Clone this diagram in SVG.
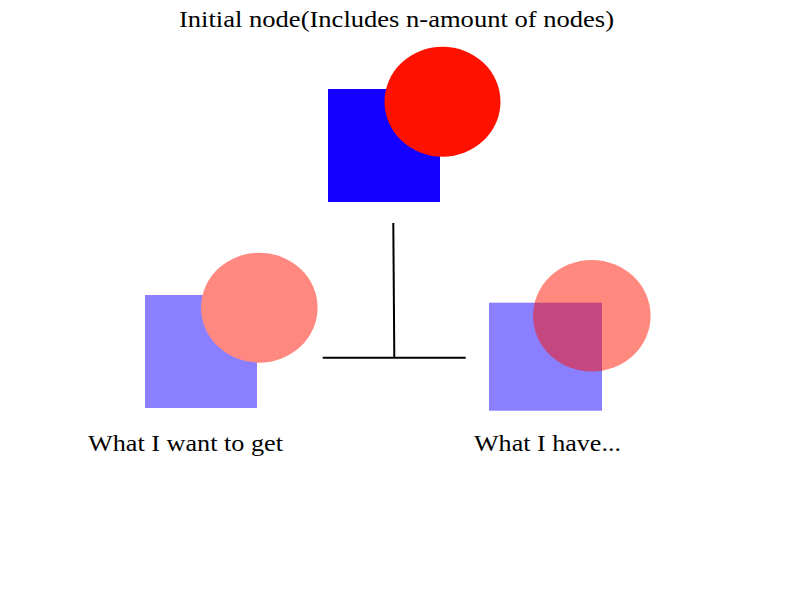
<svg xmlns="http://www.w3.org/2000/svg" width="800" height="600" viewBox="0 0 800 600">
<style>
  text { font-family: "Liberation Serif", "DejaVu Serif", serif; font-size: 23.5px; fill: #000; }
  .conn { stroke: #000; stroke-width: 2; fill: none; }
</style>
<rect width="800" height="600" fill="#fff"/>
<g id="initial-node">
  <rect x="328" y="89" width="112" height="113" fill="#1400ff"/>
  <ellipse cx="442.5" cy="101.7" rx="58" ry="55" fill="#ff1100"/>
  <text x="179" y="27" textLength="435" lengthAdjust="spacingAndGlyphs">Initial node(Includes n-amount of nodes)</text>
</g>
<g id="want-node">
  <rect x="145" y="295" width="112" height="113" fill="#8a80ff"/>
  <ellipse cx="259.3" cy="307.7" rx="58.3" ry="55" fill="#ff8880"/>
  <text x="88" y="451" textLength="195" lengthAdjust="spacingAndGlyphs">What I want to get</text>
</g>
<g id="have-node">
  <rect x="489" y="302.7" width="113" height="108" fill="#1400ff" fill-opacity="0.5"/>
  <ellipse cx="591.8" cy="315.8" rx="58.8" ry="55.8" fill="#ff1100" fill-opacity="0.5"/>
  <text x="474" y="451" textLength="147" lengthAdjust="spacingAndGlyphs">What I have...</text>
</g>
<g id="connectors">
  <line class="conn" x1="393.3" y1="223" x2="394.3" y2="357.7"/>
  <line class="conn" x1="322.7" y1="357.7" x2="465.7" y2="357.7"/>
</g>
</svg>
